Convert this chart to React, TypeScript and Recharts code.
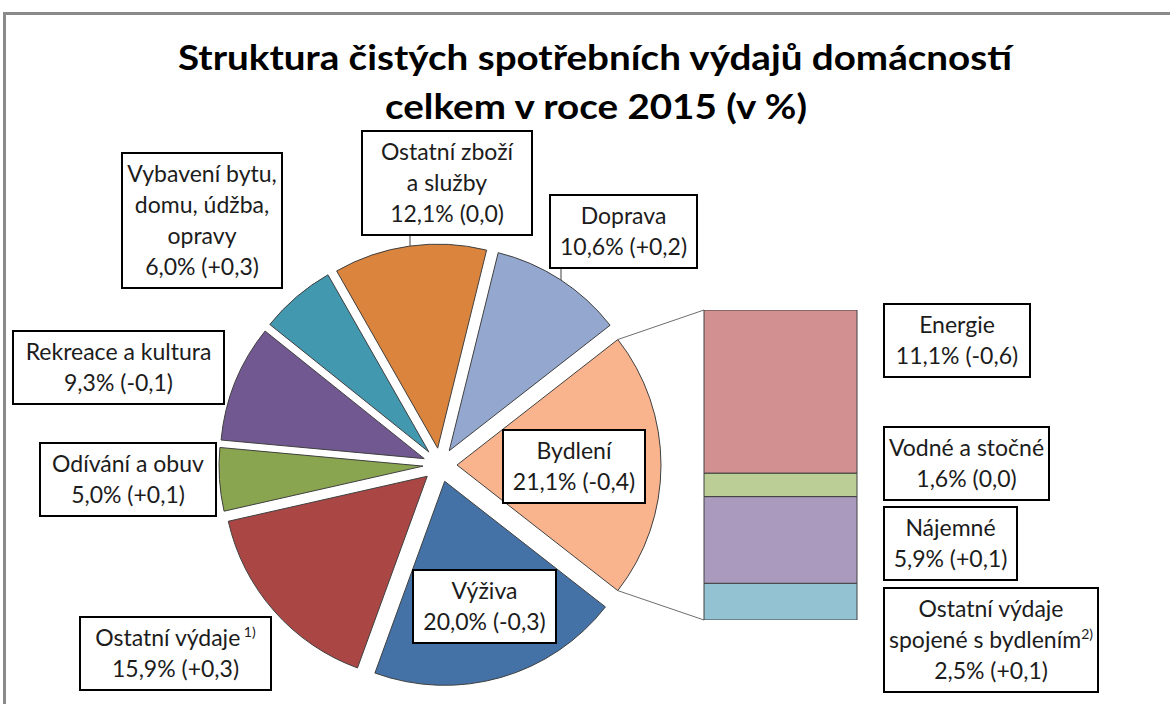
import { Bar, BarChart, LabelList, Pie, PieChart, Sector, XAxis, YAxis } from 'recharts'

const W = 1170
const H = 704
const FONT = 'Lato, "Open Sans", sans-serif'
const TEXT = '#1c1c1c'
const RAD = Math.PI / 180

// main pie: spending groups (share in %, change vs previous year)
const pieNames = [
  'Bydlení',
  'Doprava',
  'Ostatní zboží a služby',
  'Vybavení bytu, domu, údžba, opravy',
  'Rekreace a kultura',
  'Odívání a obuv',
  'Ostatní výdaje',
  'Výživa',
]
const pieLines = [
  ['Bydlení'],
  ['Doprava'],
  ['Ostatní zboží', 'a služby'],
  ['Vybavení bytu,', 'domu, údžba,', 'opravy'],
  ['Rekreace a kultura'],
  ['Odívání a obuv'],
  ['Ostatní výdaje'],
  ['Výživa'],
]
const pieShares = [21.1, 10.6, 12.1, 6.0, 9.3, 5.0, 15.9, 20.0]
const pieChanges = ['-0,4', '+0,2', '0,0', '+0,3', '-0,1', '+0,1', '+0,3', '-0,3']
const pieNotes = ['', '', '', '', '', '', ' 1)', '']
const pieColors = ['#F9B48E', '#94A8CF', '#DA843D', '#4298AF', '#715890', '#8AA54F', '#AA4644', '#4472A6']

// housing breakdown (the stacked bar), top to bottom
const housingKeys = ['energie', 'voda', 'najem', 'ostatni']
const housingLines = [['Energie'], ['Vodné a stočné'], ['Nájemné'], ['Ostatní výdaje', 'spojené s bydlením']]
const housingShares = [11.1, 1.6, 5.9, 2.5]
const housingChanges = ['-0,6', '0,0', '+0,1', '+0,1']
const housingNotes = ['', '', '', '2)']
const housingColors = ['#D29190', '#BACE96', '#A99ABE', '#93C3D3']

const titleLines = ['Struktura čistých spotřebních výdajů domácností', 'celkem v roce 2015 (v %)']

// layout
const PIE = { cx: 440, cy: 465, r: 204, explode: 17, start: -38 }
const BAR = { left: 704, right: 857, top: 310, bottom: 620 }
const LINE = 31
const pieBoxes = [
  { x: 503, y: 430, w: 142 },
  { x: 550, y: 195, w: 147, leader: 11 },
  { x: 362, y: 131, w: 170, leader: 48 },
  { x: 122, y: 153, w: 160 },
  { x: 13, y: 331, w: 211 },
  { x: 40, y: 443, w: 176 },
  { x: 80, y: 617, w: 191 },
  { x: 413, y: 570, w: 143 },
]
const housingBoxes = [
  { x: 884, y: 304, w: 146 },
  { x: 884, y: 427, w: 165 },
  { x: 884, y: 507, w: 133 },
  { x: 884, y: 588, w: 214 },
]

const fmt = (v: number, ch: string) => `${v.toFixed(1).replace('.', ',')}% (${ch})`

const pieData = pieNames.map((name, i) => ({ name, value: pieShares[i] }))
const housingRow = [
  Object.assign({ name: 'Bydlení' }, ...housingKeys.map((k, i) => ({ [k]: housingShares[i] }))),
]

type Box = { x: number; y: number; w: number; leader?: number }

function LabelBox({ box, lines, value, note }: { box: Box; lines: string[]; value: string; note: string }) {
  const h = (lines.length + 1) * LINE + 11
  const mx = box.x + box.w / 2
  return (
    <g>
      <rect x={box.x} y={box.y} width={box.w} height={h} fill="#fff" stroke="#000" strokeWidth={2} />
      <text textAnchor="middle" fontFamily={FONT} fontSize={23} fill={TEXT}>
        {lines.map((l, i) => (
          <tspan key={i} x={mx} y={box.y + 29 + i * LINE}>
            {l}
            {i === lines.length - 1 && note ? (
              <tspan fontSize={14} dy={-9}>
                {note}
              </tspan>
            ) : null}
          </tspan>
        ))}
        <tspan x={mx} y={box.y + 29 + lines.length * LINE}>
          {value}
        </tspan>
      </text>
    </g>
  )
}

const explodedCenter = (cx: number, cy: number, startAngle: number, endAngle: number) => {
  const mid = (startAngle + endAngle) / 2
  return { x: cx + PIE.explode * Math.cos(mid * RAD), y: cy - PIE.explode * Math.sin(mid * RAD) }
}

const renderSector = (props: any) => {
  const { cx, cy, outerRadius, startAngle, endAngle, index } = props
  const c = explodedCenter(cx, cy, startAngle, endAngle)
  const connectors =
    index === 0 ? (
      <g stroke="#6e6e6e" strokeWidth={1}>
        <line
          x1={c.x + outerRadius * Math.cos(endAngle * RAD)}
          y1={c.y - outerRadius * Math.sin(endAngle * RAD)}
          x2={BAR.left}
          y2={BAR.top}
        />
        <line
          x1={c.x + outerRadius * Math.cos(startAngle * RAD)}
          y1={c.y - outerRadius * Math.sin(startAngle * RAD)}
          x2={BAR.left}
          y2={BAR.bottom}
        />
      </g>
    ) : null
  return (
    <g key={`s-${index}`}>
      <Sector
        cx={c.x}
        cy={c.y}
        innerRadius={0}
        outerRadius={outerRadius}
        startAngle={startAngle}
        endAngle={endAngle}
        fill={pieColors[index]}
        stroke="#404040"
        strokeWidth={1}
      />
      {connectors}
    </g>
  )
}

const renderPieBox = (props: any) => {
  const { cx, cy, outerRadius, startAngle, endAngle, index } = props
  const box = pieBoxes[index]
  const h = (pieLines[index].length + 1) * LINE + 11
  let leader = null
  if (box.leader !== undefined) {
    const c = explodedCenter(cx, cy, startAngle, endAngle)
    const lx = box.x + box.leader
    const ly = c.y - Math.sqrt(outerRadius * outerRadius - (lx - c.x) * (lx - c.x))
    leader = <line x1={lx} y1={box.y + h} x2={lx} y2={ly} stroke="#404040" strokeWidth={1} />
  }
  return (
    <g key={`b-${index}`}>
      {leader}
      <LabelBox
        box={box}
        lines={pieLines[index]}
        value={fmt(pieShares[index], pieChanges[index])}
        note={pieNotes[index]}
      />
    </g>
  )
}

const layer: React.CSSProperties = { position: 'absolute', left: 0, top: 0 }

export default function App() {
  return (
    <div style={{ position: 'absolute', left: 0, top: 0, width: W, height: H, overflow: 'hidden', background: '#fff' }}>
      <svg width={W} height={H} style={layer}>
        <rect x={4.5} y={13.5} width={W + 20} height={H + 20} fill="none" stroke="#8a8a8a" strokeWidth={3} />
        <text textAnchor="middle" fontFamily={FONT} fontWeight={700} fontSize={35} fill="#000">
          <tspan x={595} y={70} textLength={834} lengthAdjust="spacingAndGlyphs">
            {titleLines[0]}
          </tspan>
          <tspan x={596} y={119} textLength={422} lengthAdjust="spacingAndGlyphs">
            {titleLines[1]}
          </tspan>
        </text>
      </svg>
      <div style={layer}>
        <PieChart width={W} height={H} margin={{ top: 0, right: 0, bottom: 0, left: 0 }}>
          <Pie
            data={pieData}
            dataKey="value"
            nameKey="name"
            cx={PIE.cx}
            cy={PIE.cy}
            innerRadius={0}
            outerRadius={PIE.r}
            startAngle={PIE.start}
            endAngle={PIE.start + 360}
            fill="none"
            stroke="none"
            label={renderSector}
            labelLine={false}
            isAnimationActive={false}
          />
          <Pie
            data={pieData}
            dataKey="value"
            nameKey="name"
            cx={PIE.cx}
            cy={PIE.cy}
            innerRadius={0}
            outerRadius={PIE.r}
            startAngle={PIE.start}
            endAngle={PIE.start + 360}
            fill="none"
            stroke="none"
            label={renderPieBox}
            labelLine={false}
            isAnimationActive={false}
          />
        </PieChart>
      </div>
      <div style={layer}>
        <BarChart
          width={W}
          height={H}
          data={housingRow}
          margin={{ top: BAR.top, right: W - BAR.right, bottom: H - BAR.bottom, left: BAR.left }}
          barCategoryGap={0}
        >
          <XAxis dataKey="name" hide />
          <YAxis hide domain={[0, pieShares[0]]} allowDataOverflow />
          {[3, 2, 1, 0].map((i) => (
            <Bar
              key={housingKeys[i]}
              dataKey={housingKeys[i]}
              stackId="bydleni"
              fill={housingColors[i]}
              stroke="#404040"
              strokeWidth={1}
              isAnimationActive={false}
            >
              <LabelList
                dataKey={housingKeys[i]}
                content={() => (
                  <LabelBox
                    box={housingBoxes[i]}
                    lines={housingLines[i]}
                    value={fmt(housingShares[i], housingChanges[i])}
                    note={housingNotes[i]}
                  />
                )}
              />
            </Bar>
          ))}
        </BarChart>
      </div>
    </div>
  )
}
